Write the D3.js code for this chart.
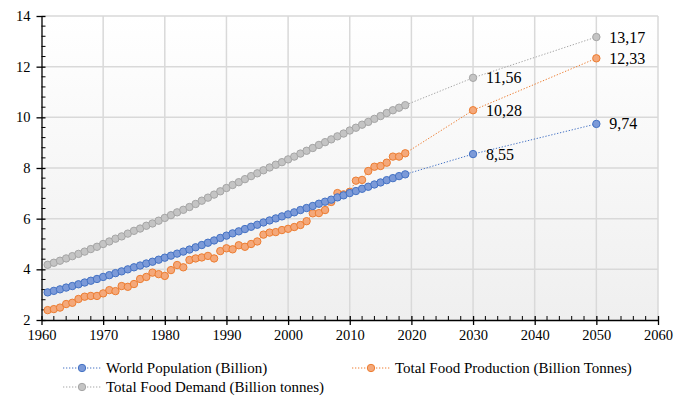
<!DOCTYPE html>
<html><head><meta charset="utf-8">
<script src="https://cdn.jsdelivr.net/npm/d3@7"></script>
<style>body{margin:0;background:#fff}svg{display:block}svg text{font-family:"Liberation Serif","Times New Roman",serif !important;fill:#000}</style>
</head><body><svg id="c" width="675" height="401"></svg>
<script>
const years = d3.range(1961, 2020).concat([2030, 2050]);
const population = [3.09,3.15,3.21,3.28,3.34,3.41,3.48,3.55,3.62,3.70,3.77,3.85,3.92,4.00,4.08,4.15,4.23,4.30,4.38,4.46,4.54,4.62,4.70,4.78,4.87,4.96,5.05,5.14,5.24,5.33,5.42,5.50,5.59,5.68,5.76,5.85,5.93,6.01,6.09,6.17,6.25,6.34,6.42,6.50,6.59,6.67,6.75,6.84,6.92,7.01,7.09,7.18,7.26,7.35,7.43,7.52,7.60,7.68,7.75,8.55,9.74];
const production = [2.39,2.43,2.49,2.63,2.68,2.83,2.92,2.95,2.95,3.05,3.18,3.14,3.34,3.31,3.42,3.62,3.70,3.87,3.81,3.74,3.97,4.17,4.08,4.37,4.43,4.47,4.53,4.43,4.72,4.83,4.79,4.95,4.89,5.00,5.10,5.37,5.45,5.47,5.55,5.60,5.67,5.75,5.90,6.21,6.22,6.34,6.66,7.01,6.96,7.06,7.50,7.53,7.88,8.05,8.08,8.21,8.45,8.45,8.58,10.28,12.33];
const demand = [4.18,4.26,4.34,4.43,4.52,4.61,4.70,4.80,4.89,5.00,5.10,5.21,5.30,5.41,5.52,5.61,5.72,5.81,5.92,6.03,6.14,6.25,6.35,6.46,6.58,6.71,6.83,6.95,7.08,7.21,7.33,7.44,7.56,7.68,7.79,7.91,8.02,8.13,8.23,8.34,8.45,8.57,8.68,8.79,8.91,9.02,9.13,9.25,9.36,9.48,9.59,9.71,9.82,9.94,10.05,10.17,10.28,10.38,10.48,11.56,13.17];
const labelYears = [2030, 2050];
const seriesNames = ["World Population (Billion)", "Total Food Production (Billion Tonnes)", "Total Food Demand (Billion tonnes)"];
const xTicks = d3.range(1960, 2061, 10);
const yTicks = d3.range(2, 15, 2);

const series = [
  {name: seriesNames[0], values: population, stroke: "#4472c4", fill: "#7c9ad8"},
  {name: seriesNames[1], values: production, stroke: "#ed7d31", fill: "#f4a87a"},
  {name: seriesNames[2], values: demand, stroke: "#a5a5a5", fill: "#c4c4c4"}
];

const FONT = '"Liberation Serif","Times New Roman",serif';
const svg = d3.select("#c");
const L = 41.5, R = 658, T = 16, B = 320;
const x = d3.scaleLinear().domain([1960, 2060]).range([L, R]);
const y = d3.scaleLinear().domain([2, 14]).range([B, T]);

const defs = svg.append("defs");
const g = defs.append("linearGradient").attr("id", "bg").attr("x1", 0).attr("y1", 0).attr("x2", 0).attr("y2", 1);
g.append("stop").attr("offset", "0%").attr("stop-color", "#ffffff");
g.append("stop").attr("offset", "100%").attr("stop-color", "#efefef");
svg.append("rect").attr("x", L).attr("y", T).attr("width", R - L).attr("height", B - T).attr("fill", "url(#bg)");

// grid
svg.append("g").selectAll("line").data(xTicks.slice(1)).join("line")
  .attr("x1", d => x(d)).attr("x2", d => x(d)).attr("y1", T).attr("y2", B)
  .attr("stroke", "#d9d9d9").attr("stroke-width", 1.5);
svg.append("g").selectAll("line").data(yTicks.slice(1)).join("line")
  .attr("x1", L).attr("x2", R).attr("y1", d => y(d)).attr("y2", d => y(d))
  .attr("stroke", "#d9d9d9").attr("stroke-width", 1.5);

// axes
const xAxis = svg.append("g").attr("transform", `translate(0,${B})`)
  .call(d3.axisBottom(x).tickValues(xTicks).tickFormat(d3.format("d")).tickSizeInner(5).tickSizeOuter(0).tickPadding(5));
xAxis.attr("font-family", FONT).attr("font-size", 14.5);
xAxis.select(".domain").attr("stroke", "#000").attr("stroke-width", 1.3);
xAxis.selectAll(".tick line").attr("y1", -4).attr("y2", 5).attr("stroke-width", 1.3);
xAxis.selectAll("text").style("font-family", FONT).style("font-size", "14.5px").attr("fill", "#000");
svg.append("g").selectAll("line").data(d3.range(1962, 2060, 2).filter(d => d % 10 !== 0)).join("line")
  .attr("x1", d => x(d)).attr("x2", d => x(d)).attr("y1", B - 4).attr("y2", B)
  .attr("stroke", "#000").attr("stroke-width", 1);

const yAxis = svg.append("g").attr("transform", `translate(${L},0)`)
  .call(d3.axisLeft(y).tickValues(yTicks).tickSizeInner(5).tickSizeOuter(0).tickPadding(6));
yAxis.attr("font-family", FONT).attr("font-size", 14.5);
yAxis.select(".domain").attr("stroke", "#000").attr("stroke-width", 1.3);
yAxis.selectAll(".tick line").attr("x1", -5).attr("x2", 4).attr("stroke-width", 1.3);
yAxis.selectAll("text").style("font-family", FONT).style("font-size", "14.5px").attr("fill", "#000");
svg.append("g").selectAll("line").data(d3.range(2.4, 14, 0.4).filter(d => Math.abs(d / 2 - Math.round(d / 2)) > 0.01)).join("line")
  .attr("x1", L).attr("x2", L + 4).attr("y1", d => y(d)).attr("y2", d => y(d))
  .attr("stroke", "#000").attr("stroke-width", 1);

// series
const line = d3.line().x(d => x(d[0])).y(d => y(d[1]));
series.slice().reverse().forEach(s => {
  const pts = years.map((yr, i) => [yr, s.values[i]]);
  svg.append("path").datum(pts).attr("d", line).attr("fill", "none")
    .attr("stroke", s.stroke).attr("stroke-width", 1).attr("stroke-dasharray", "1.3,1.7");
  svg.append("g").selectAll("circle").data(pts).join("circle")
    .attr("cx", d => x(d[0])).attr("cy", d => y(d[1])).attr("r", 3.7)
    .attr("fill", s.fill).attr("stroke", s.stroke).attr("stroke-width", 1);
  svg.append("g").selectAll("text").data(pts.filter(d => labelYears.includes(d[0]))).join("text")
    .attr("x", d => x(d[0]) + 13).attr("y", d => y(d[1]) + 5.5)
    .style("font-family", FONT).style("font-size", "16px")
    .text(d => d3.format(".2f")(d[1]).replace(".", ","));
});

// legend
const leg = [{s: series[0], x: 63, y: 368}, {s: series[1], x: 352, y: 368}, {s: series[2], x: 63, y: 387}];
leg.forEach(l => {
  const gg = svg.append("g");
  gg.append("line").attr("x1", l.x).attr("x2", l.x + 38).attr("y1", l.y).attr("y2", l.y)
    .attr("stroke", l.s.stroke).attr("stroke-width", 1).attr("stroke-dasharray", "1.3,1.7");
  gg.append("circle").attr("cx", l.x + 19).attr("cy", l.y).attr("r", 3.7)
    .attr("fill", l.s.fill).attr("stroke", l.s.stroke);
  gg.append("text").attr("x", l.x + 43).attr("y", l.y + 5)
    .style("font-family", FONT).style("font-size", "15px").text(l.s.name);
});
</script></body></html>
